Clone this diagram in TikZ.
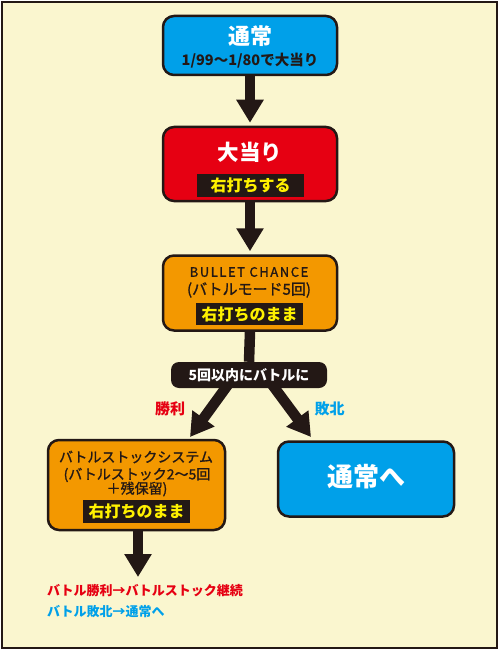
\documentclass[tikz,border=0pt]{standalone}
\usepackage{fontspec}
\setmainfont{Noto Sans CJK JP}
\newfontfamily\Med[FakeBold=1.3]{Noto Sans CJK JP}
\usepackage{xcolor}
\definecolor{ColBg}{RGB}{250,246,207}
\definecolor{ColInk}{RGB}{35,24,21}
\definecolor{ColBlue}{RGB}{0,160,233}
\definecolor{ColRed}{RGB}{230,0,18}
\definecolor{ColOrange}{RGB}{243,152,0}
\definecolor{ColYellow}{RGB}{255,241,0}
\usepackage{tikz}
\usetikzlibrary{arrows.meta}
\usetikzlibrary{backgrounds}
\newcommand{\Fs}[1]{\fontsize{#1}{#1}\selectfont}
\tikzstyle{Frame}=[draw=ColInk,line width=2pt,fill=ColBg]
\tikzstyle{Box}=[rectangle,rounded corners=11pt,draw=ColInk,line width=2.5pt,
inner sep=0pt,minimum width=174pt]
\tikzstyle{Tag}=[fill=ColInk,text=ColYellow,inner sep=0pt,minimum width=107pt,
minimum height=23pt,font=\bfseries\Fs{16}]
\tikzstyle{Bar}=[fill=ColInk,text=white,rounded corners=8pt,inner sep=0pt,
minimum width=156pt,minimum height=26pt,font=\bfseries\Fs{14}]
\tikzstyle{Txt}=[inner sep=0pt]
\tikzstyle{Arrow}=[draw=ColInk,line width=10.5pt,-{Triangle[width=26pt,length=23pt]}]
\tikzstyle{Shaft}=[draw=ColInk,line width=10.5pt]

\begin{document}
\begin{tikzpicture}[x=1pt,y=-1pt]
        \useasboundingbox(0,0)rectangle(499,650);
        \node[Box,fill=ColBlue,minimum height=59pt](normal)at(250,45.5){};
        \node[Txt,text=white,font=\bfseries\Fs{22}](normalT)at(250,36.5){通常};
        \node[Txt,text=ColInk,font=\bfseries\Fs{14.5}](normalS)at(250,61){1/99～1/80で大当り};
        \node[Box,fill=ColRed,minimum height=74pt](hit)at(250,164){};
        \node[Txt,text=white,font=\bfseries\Fs{21.5}](hitT)at(250,152){大当り};
        \node[Tag](hitS)at(250.5,185){右打ちする};
        \node[Box,fill=ColOrange,minimum height=75pt](bullet)at(250,293){};
        \node[Txt,text=ColInk,font=\Med\Fs{13}\addfontfeature{LetterSpace=12}](bulletT)at(249,272){BULLET CHANCE};
        \node[Txt,text=ColInk,font=\Med\Fs{15}](bulletM)at(249,290){(バトルモード5回)};
        \node[Tag,minimum height=22pt](bulletS)at(249.5,314){右打ちのまま};
        \node[Bar](bar)at(249,375){5回以内にバトルに};
        \node[Txt,text=ColRed,font=\bfseries\Fs{15}](win)at(170,409){勝利};
        \node[Txt,text=ColBlue,font=\bfseries\Fs{15}](lose)at(329.5,409){敗北};
        \node[Box,fill=ColOrange,minimum width=177pt,minimum height=90pt](stock)at(136.5,485){};
        \node[Txt,text=ColInk,font=\Med\Fs{14}](stockT)at(136,457){バトルストックシステム};
        \node[Txt,text=ColInk,font=\Med\Fs{14}](stockM)at(137,475){(バトルストック2～5回};
        \node[Txt,text=ColInk,font=\Med\Fs{14}](stockN)at(137,489){＋残保留)};
        \node[Tag](stockS)at(136.5,511.5){右打ちのまま};
        \node[Box,fill=ColBlue,minimum width=176pt,minimum height=75pt](back)at(366,479){};
        \node[Txt,text=white,font=\bfseries\Fs{26}](backT)at(366,477){通常へ};
        \node[Txt,anchor=west,text=ColRed,font=\bfseries\Fs{13}](noteW)at(47,591){バトル勝利→バトルストック継続};
        \node[Txt,anchor=west,text=ColBlue,font=\bfseries\Fs{13}](noteL)at(47,612){バトル敗北→通常へ};
        \coordinate(tipW)at(190,437);
        \coordinate(tipL)at(311,437);
        \coordinate(tipS)at(138,577);
        \begin{scope}[on background layer]
        \draw[Frame](2,2)rectangle(497,648);
        \draw[Arrow,shorten >=3pt](normal.south)--(hit.north);
        \draw[Arrow,shorten >=3pt](hit.south)--(bullet.north);
        \draw[Shaft](bullet.south)--(bar.north);
        \draw[Arrow]([xshift=-14pt]bar.center)--(tipW);
        \draw[Arrow]([xshift=16pt]bar.center)--(tipL);
        \draw[Arrow](tipS|-stock.south)--(tipS);
        \end{scope}
    \end{tikzpicture}
\end{document}
